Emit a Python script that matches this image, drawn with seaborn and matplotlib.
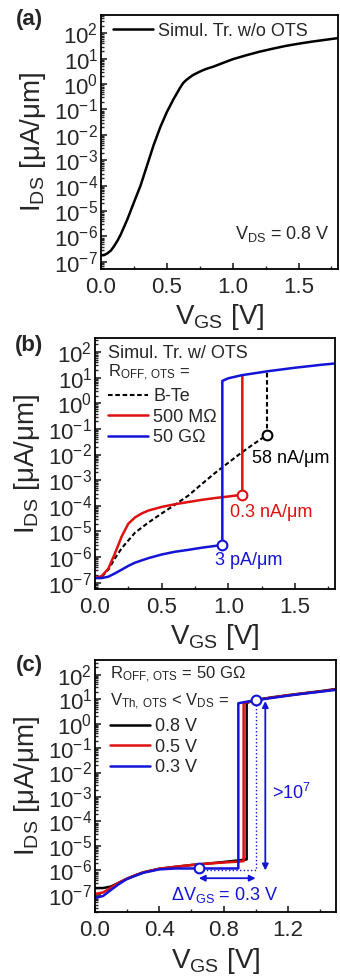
import matplotlib
matplotlib.use("Agg")
import matplotlib.pyplot as plt
import seaborn as sns
from matplotlib.ticker import LogLocator, MultipleLocator, NullFormatter

sns.set_style("ticks")
plt.rcParams["font.family"] = ["Liberation Sans", "DejaVu Sans"]
plt.rcParams["mathtext.default"] = "regular"

BLUE = "#1414D8"
RED = "#E01010"
BLACK = "black"

# ---- (a) transistor alone ----
a_vgs = [0.0, 0.025, 0.05, 0.075, 0.1, 0.125, 0.15, 0.2, 0.25, 0.3, 0.35, 0.4, 0.45, 0.5,
         0.55, 0.6, 0.625, 0.65, 0.675, 0.7, 0.75, 0.8, 0.85, 0.9, 1.0, 1.1, 1.2, 1.3,
         1.4, 1.5, 1.6, 1.7, 1.8]
a_ids = [1.78e-7, 1.86e-7, 2.2e-7, 2.8e-7, 4.2e-7, 6.8e-7, 1.2e-6, 4.7e-6, 2.2e-5,
         1.0e-4, 6.3e-4, 4.0e-3, 2.0e-2, 7.9e-2, 0.25, 0.71, 1.12, 1.48, 1.86, 2.29,
         3.09, 3.98, 4.79, 6.03, 9.5, 13.5, 18.6, 24.5, 31.6, 38.9, 46.8, 55.0, 64.6]

# ---- (b) transistor + OTS, different R_OFF ----
b_bte_vgs = [0.0, 0.05, 0.1, 0.15, 0.2, 0.3, 0.4, 0.5, 0.6, 0.7, 0.8, 0.9, 1.0, 1.1, 1.2,
             1.29, 1.29]
b_bte_ids = [1.5e-7, 1.65e-7, 3.2e-7, 8.9e-7, 2.2e-6, 8.9e-6, 2.2e-5, 5.0e-5, 1.1e-4,
             2.5e-4, 7.0e-4, 1.9e-3, 4.8e-3, 1.2e-2, 2.8e-2, 5.8e-2, 18.0]
b_r500_vgs = [0.0, 0.05, 0.1, 0.15, 0.2, 0.25, 0.3, 0.35, 0.4, 0.5, 0.6, 0.7, 0.8, 0.9,
              1.0, 1.105, 1.105]
b_r500_ids = [1.5e-7, 1.8e-7, 3.5e-7, 1.4e-6, 6.3e-6, 2.0e-5, 3.5e-5, 5.0e-5, 6.5e-5,
              9.0e-5, 1.15e-4, 1.4e-4, 1.7e-4, 2.0e-4, 2.3e-4, 2.7e-4, 12.6]
b_r50g_vgs = [0.0, 0.05, 0.1, 0.15, 0.2, 0.25, 0.3, 0.4, 0.5, 0.6, 0.7, 0.8, 0.9, 0.955,
              0.955, 1.0, 1.1, 1.2, 1.3, 1.4, 1.5, 1.6, 1.7, 1.8]
b_r50g_ids = [1.5e-7, 1.5e-7, 1.7e-7, 2.3e-7, 3.2e-7, 4.5e-7, 6.0e-7, 9.0e-7, 1.25e-6,
              1.6e-6, 1.9e-6, 2.3e-6, 2.7e-6, 3.0e-6, 7.5, 9.5, 12.5, 15.0, 18.0, 21.0,
              24.5, 28.0, 32.0, 36.0]
b_open_vgs = [1.29, 1.105, 0.955]
b_open_ids = [5.8e-2, 2.7e-4, 3.0e-6]
b_open_colors = [BLACK, RED, BLUE]
b_notes = ["58 nA/μm", "0.3 nA/μm", "3 pA/μm"]
b_note_vgs = [1.47, 1.32, 1.15]
b_note_ids = [7.0e-3, 5.5e-5, 7.5e-7]

# ---- (c) R_OFF = 50 GOhm, different V_Th ----
c_v08_vgs = [0.0, 0.05, 0.1, 0.15, 0.2, 0.25, 0.3, 0.4, 0.5, 0.6, 0.7, 0.8, 0.9, 0.944,
             0.944, 1.0, 1.1, 1.2, 1.3, 1.4, 1.5]
c_v08_ids = [1.9e-7, 1.9e-7, 2.2e-7, 3.2e-7, 4.5e-7, 6.3e-7, 8.3e-7, 1.17e-6, 1.4e-6,
             1.66e-6, 1.9e-6, 2.2e-6, 2.6e-6, 2.8e-6, 7.0, 9.3, 11.8, 14.5, 17.5, 21.0, 26.0]
c_v05_vgs = [0.0, 0.05, 0.1, 0.15, 0.2, 0.3, 0.4, 0.5, 0.6, 0.7, 0.8, 0.9, 0.925, 0.925,
             1.0, 1.1, 1.2, 1.3, 1.4, 1.5]
c_v05_ids = [1.1e-7, 1.25e-7, 2.0e-7, 3.2e-7, 4.7e-7, 8.3e-7, 1.17e-6, 1.4e-6, 1.66e-6,
             1.9e-6, 2.1e-6, 2.3e-6, 2.4e-6, 6.8, 9.1, 11.6, 14.2, 17.2, 20.5, 25.0]
c_v03_vgs = [0.0, 0.05, 0.1, 0.15, 0.2, 0.3, 0.4, 0.5, 0.6, 0.646, 0.892, 0.892, 0.95,
             1.0, 1.1, 1.2, 1.3, 1.4, 1.5]
c_v03_ids = [7.4e-8, 9.0e-8, 1.6e-7, 2.8e-7, 4.5e-7, 8.0e-7, 1.1e-6, 1.2e-6, 1.2e-6,
             1.2e-6, 1.2e-6, 6.8, 8.0, 9.0, 11.2, 13.8, 16.8, 20.0, 24.0]
c_open_vgs = [0.646, 1.0]
c_open_ids = [1.2e-6, 9.0]
c_guide_vgs = [0.646, 1.0, 1.0]
c_guide_ids = [1.0e-6, 1.0e-6, 9.0]
c_varrow_vgs = [1.06, 1.06]
c_varrow_ids = [8.3, 1.0e-6]
c_harrow_vgs = [0.646, 1.0]
c_harrow_ids = [4.8e-7, 4.8e-7]

W, H = 340, 977
fig = plt.figure(figsize=(W / 100, H / 100), dpi=100)


def rect(left, right, top, bottom):
    return [left / W, 1 - bottom / H, (right - left) / W, (bottom - top) / H]


def style_axes(ax, xmax, xmajor, ylim):
    ax.set_yscale("log")
    ax.set_xlim(0, xmax)
    ax.set_ylim(*ylim)
    ax.xaxis.set_major_locator(MultipleLocator(xmajor))
    ax.xaxis.set_minor_locator(MultipleLocator(xmajor / 2))
    ax.set_yticks([10.0 ** k for k in range(-7, 3)])
    ax.yaxis.set_minor_locator(LogLocator(base=10, subs=range(2, 10), numticks=100))
    ax.yaxis.set_minor_formatter(NullFormatter())
    ax.tick_params(which="both", direction="in", top=False, right=False)
    ax.tick_params(which="major", length=4, width=1.2, labelsize=16)
    ax.tick_params(axis="x", which="major", pad=6)
    ax.tick_params(axis="y", which="major", pad=2)
    ax.tick_params(which="minor", length=2.5, width=1.0)
    for s in ax.spines.values():
        s.set_linewidth(1.3)
        s.set_color("black")
    ax.set_xlabel("V$_{GS}$ [V]", fontsize=20, labelpad=3)
    ax.set_ylabel("I$_{DS}$ [μA/μm]", fontsize=20, labelpad=4)


ax_a = fig.add_axes(rect(101, 338, 15, 269))
ax_b = fig.add_axes(rect(95, 335, 338, 589))
ax_c = fig.add_axes(rect(95, 336, 660, 912))

style_axes(ax_a, 1.8, 0.5, (10 ** -7.28, 10 ** 2.72))
style_axes(ax_b, 1.8, 0.5, (10 ** -7.25, 10 ** 2.55))
style_axes(ax_c, 1.5, 0.4, (10 ** -7.7, 10 ** 2.6))
ax_c.xaxis.set_major_formatter(plt.FormatStrFormatter("%.1f"))

lw = 1.8

# (a)
sns.lineplot(x=a_vgs, y=a_ids, ax=ax_a, color=BLACK, lw=lw, estimator=None, sort=False,
             label="Simul. Tr. w/o OTS")
ax_a.legend(loc="upper left", bbox_to_anchor=(0.05, 0.97), frameon=False, fontsize=13,
            handlelength=2.2, handletextpad=0.3, borderpad=0, borderaxespad=0)
ax_a.text(1.74, 10 ** -5.9, "V$_{DS}$ = 0.8 V", fontsize=13, ha="right", va="center")

# (b)
sns.lineplot(x=b_bte_vgs, y=b_bte_ids, ax=ax_b, color=BLACK, lw=1.5, estimator=None,
             sort=False, linestyle=(0, (2.2, 1.3)), label="B-Te")
sns.lineplot(x=b_r500_vgs, y=b_r500_ids, ax=ax_b, color=RED, lw=lw, estimator=None,
             sort=False, label="500 MΩ")
sns.lineplot(x=b_r50g_vgs, y=b_r50g_ids, ax=ax_b, color=BLUE, lw=lw, estimator=None,
             sort=False, label="50 GΩ")
for v, i, c in zip(b_open_vgs, b_open_ids, b_open_colors):
    ax_b.plot(v, i, "o", ms=7, mfc="white", mec=c, mew=1.5, zorder=5)
for txt, v, i, c in zip(b_notes, b_note_vgs, b_note_ids, b_open_colors):
    ax_b.text(v, i, txt, color=c, fontsize=13, ha="center", va="center")
ax_b.text(0.054, 0.94, "Simul. Tr. w/ OTS", transform=ax_b.transAxes, fontsize=13,
          va="center")
ax_b.text(0.054, 0.86, "R$_{OFF,\\,OTS}$ =", transform=ax_b.transAxes, fontsize=12,
          va="center")
ax_b.legend(loc="upper left", bbox_to_anchor=(0.054, 0.80), frameon=False, fontsize=13,
            handlelength=2.2, handletextpad=0.3, borderpad=0, borderaxespad=0,
            labelspacing=0.2)

# (c)
sns.lineplot(x=c_v08_vgs, y=c_v08_ids, ax=ax_c, color=BLACK, lw=lw, estimator=None,
             sort=False, label="0.8 V")
sns.lineplot(x=c_v05_vgs, y=c_v05_ids, ax=ax_c, color=RED, lw=lw, estimator=None,
             sort=False, label="0.5 V")
sns.lineplot(x=c_v03_vgs, y=c_v03_ids, ax=ax_c, color=BLUE, lw=lw, estimator=None,
             sort=False, label="0.3 V")
sns.lineplot(x=c_guide_vgs, y=c_guide_ids, ax=ax_c, color=BLUE, lw=1.0, estimator=None,
             sort=False, linestyle=":")
for v, i in zip(c_open_vgs, c_open_ids):
    ax_c.plot(v, i, "o", ms=7, mfc="white", mec=BLUE, mew=1.5, zorder=5)
arrow = dict(arrowstyle="<|-|>", color=BLUE, lw=1.3, mutation_scale=9, shrinkA=0, shrinkB=0)
ax_c.annotate("", xy=(c_varrow_vgs[0], c_varrow_ids[0]),
              xytext=(c_varrow_vgs[1], c_varrow_ids[1]), arrowprops=arrow)
ax_c.annotate("", xy=(c_harrow_vgs[0], c_harrow_ids[0]),
              xytext=(c_harrow_vgs[1], c_harrow_ids[1]), arrowprops=arrow)
ax_c.text(1.1, 1.5e-3, ">10$^7$", color=BLUE, fontsize=13, ha="left", va="center")
ax_c.text(0.81, 1.0e-7, "ΔV$_{GS}$ = 0.3 V", color=BLUE, fontsize=13, ha="center",
          va="center")
ax_c.text(0.062, 0.94, "R$_{OFF,\\,OTS}$ = 50 GΩ", transform=ax_c.transAxes, fontsize=12,
          va="center")
ax_c.text(0.062, 0.835, "V$_{Th,\\,OTS}$ < V$_{DS}$ =", transform=ax_c.transAxes,
          fontsize=12, va="center")
ax_c.legend(loc="upper left", bbox_to_anchor=(0.062, 0.77), frameon=False, fontsize=13,
            handlelength=2.2, handletextpad=0.3, borderpad=0, borderaxespad=0,
            labelspacing=0.2)

for lbl, y in zip(["(a)", "(b)", "(c)"], [19, 345, 665]):
    fig.text(29 / W, 1 - y / H, lbl, fontsize=16, fontweight="bold", ha="center",
             va="center")

fig.savefig("out.png", dpi=100)
